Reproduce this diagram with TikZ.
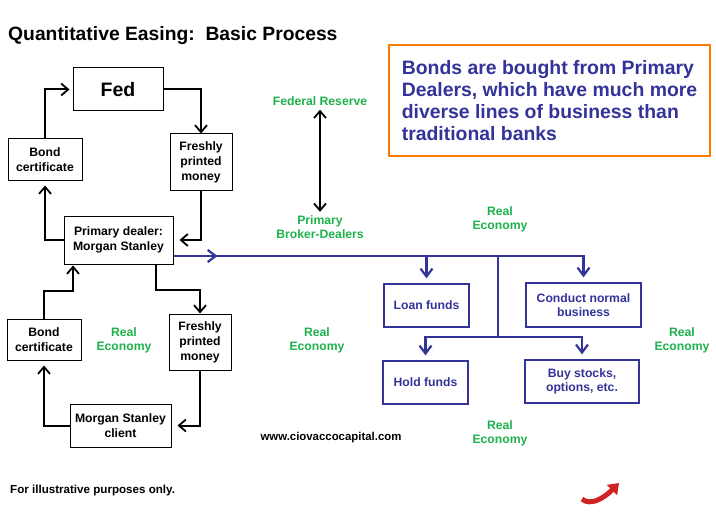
\documentclass[tikz,border=0pt]{standalone}
\usepackage{fontspec}
\setmainfont{Liberation Sans}
\usetikzlibrary{arrows.meta,positioning}
\definecolor{QeBlue}{RGB}{51,51,153}
\definecolor{QeGreen}{RGB}{30,178,76}
\definecolor{QeOrange}{RGB}{250,125,0}
\definecolor{QeRed}{RGB}{210,35,35}
\tikzset{
  qe/box/.style={
    draw=black,
    line width=1pt,
    fill=white,
    align=center,
    inner sep=2pt,
    font=\fontsize{12.2}{15}\selectfont\bfseries
  },
  qe/bluebox/.style={
    draw=QeBlue,
    line width=1.2pt,
    fill=white,
    align=center,
    text=QeBlue,
    inner sep=2pt,
    font=\fontsize{12.2}{14}\selectfont\bfseries
  },
  qe/note/.style={
    draw=QeOrange,
    line width=2pt,
    align=left,
    text=QeBlue,
    inner sep=0pt,
    minimum width=321pt,
    minimum height=111pt,
    font=\fontsize{19.4}{22}\selectfont\bfseries
  },
  qe/arrow/.style={-{Straight Barb[length=7pt,width=12pt,line width=1.8pt]}, line width=2pt, draw=black},
  qe/biarrow/.style={{Straight Barb[length=7pt,width=12pt,line width=1.8pt]}-{Straight Barb[length=7pt,width=12pt,line width=1.8pt]}, line width=2pt, draw=black},
  qe/blueline/.style={line width=2.5pt, draw=QeBlue},
  qe/bluearrow/.style={-{Straight Barb[length=8pt,width=12pt,line width=2.2pt]}, line width=2.5pt, draw=QeBlue},
  qe/green/.style={text=QeGreen, align=center, inner sep=0pt, font=\fontsize{12.2}{14}\selectfont\bfseries},
  qe/swoosh/.style={-{Triangle[length=10pt,width=14pt]}, line width=5pt, draw=QeRed, fill=none}
}
\begin{document}
\begin{tikzpicture}[x=1pt,y=-1pt]
  \useasboundingbox[fill=white] (0,0) rectangle (716,527);
  % title and notes
  \node[anchor=west, inner sep=0pt, font=\fontsize{19.3}{22}\selectfont\bfseries] (title) at (8,36) {Quantitative Easing:\ \ Basic Process};
  \node[qe/note] (note) at (549.5,100.5) {Bonds are bought from Primary\\Dealers, which have much more\\diverse lines of business than\\traditional banks};
  \node[anchor=west, inner sep=0pt, font=\fontsize{11.6}{14}\selectfont\bfseries] (foot) at (10,490) {For illustrative purposes only.};
  \node[inner sep=0pt, font=\fontsize{11.4}{14}\selectfont\bfseries] (web) at (331,438) {www.ciovaccocapital.com};

  % upper loop
  \node[qe/box, minimum width=90pt, minimum height=43pt, font=\fontsize{19.5}{22}\selectfont\bfseries] (fed) at (118,89.5) {Fed};
  \node[qe/box, minimum width=74pt, minimum height=41pt] (bondA) at (45,159.5) {Bond\\certificate};
  \node[qe/box, minimum width=62pt, minimum height=56pt] (moneyA) at (201,162) {Freshly\\printed\\money};
  \node[qe/box, minimum width=109pt, minimum height=48pt] (dealer) at (118.5,240) {Primary dealer:\\Morgan Stanley};

  % lower loop
  \node[qe/box, minimum width=74pt, minimum height=41pt] (bondB) at (44,339.5) {Bond\\certificate};
  \node[qe/box, minimum width=62pt, minimum height=56pt] (moneyB) at (200,342) {Freshly\\printed\\money};
  \node[qe/box, minimum width=101pt, minimum height=43pt] (client) at (120.5,425.5) {Morgan Stanley\\client};

  % uses of the money
  \node[qe/bluebox, minimum width=85pt, minimum height=43pt] (loan) at (426.5,305.5) {Loan funds};
  \node[qe/bluebox, minimum width=115pt, minimum height=44pt] (conduct) at (583.5,305) {Conduct normal\\business};
  \node[qe/bluebox, minimum width=85pt, minimum height=43pt] (hold) at (425.5,382.5) {Hold funds};
  \node[qe/bluebox, minimum width=114pt, minimum height=43pt] (buy) at (582,381.5) {Buy stocks,\\options, etc.};

  % green labels
  \node[qe/green] (fedres) at (320,101) {Federal Reserve};
  \node[qe/green] (pbd) at (320,227.5) {Primary\\Broker-Dealers};
  \node[qe/green] (realA) at (500,219) {Real\\Economy};
  \node[qe/green] (realB) at (124,340) {Real\\Economy};
  \node[qe/green] (realC) at (317,340) {Real\\Economy};
  \node[qe/green] (realD) at (682,340) {Real\\Economy};
  \node[qe/green] (realE) at (500,433) {Real\\Economy};

  % black connectors
  \draw[qe/arrow] (bondA.north) |- ([xshift=-3pt]fed.west);
  \draw[qe/arrow] (fed.east) -| (moneyA.north);
  \draw[qe/arrow] (moneyA.south) |- ([xshift=6pt]dealer.east);
  \draw[qe/arrow] (dealer.west) -| ([yshift=-5pt]bondA.south);
  \draw[qe/arrow] ([xshift=37.5pt]dealer.south) |- (200,290) -- (moneyB.north);
  \draw[qe/arrow] (moneyB.south) |- ([xshift=6pt]client.east);
  \draw[qe/arrow] (client.west) -| ([yshift=-5pt]bondB.south);
  \draw[qe/arrow] (bondB.north) |- (73,291) -- ([xshift=-45.5pt,yshift=-1pt]dealer.south);
  \draw[qe/biarrow] ([yshift=-4pt]fedres.south) -- ([yshift=4pt]pbd.north);

  % blue connectors
  \coordinate (split) at (498,256);
  \coordinate (splitB) at (498,337);
  \draw[qe/blueline] ([yshift=-16pt]dealer.east) -- (split);
  \draw[qe/bluearrow] ([yshift=-16pt]dealer.east) -- ++(44,0);
  \draw[qe/bluearrow, shorten >=5pt] (split) -| (conduct.north);
  \draw[qe/bluearrow, shorten >=5pt] (loan.north |- split) -- (loan.north);
  \draw[qe/blueline] (split) -- (splitB);
  \draw[qe/bluearrow, shorten >=5pt] (splitB) -| (hold.north);
  \draw[qe/bluearrow, shorten >=5pt] (splitB) -| (buy.north);

  % logo swoosh
  \draw[qe/swoosh] (582,499) .. controls (590,506) and (603,499) .. (619,483);
\end{tikzpicture}
\end{document}
